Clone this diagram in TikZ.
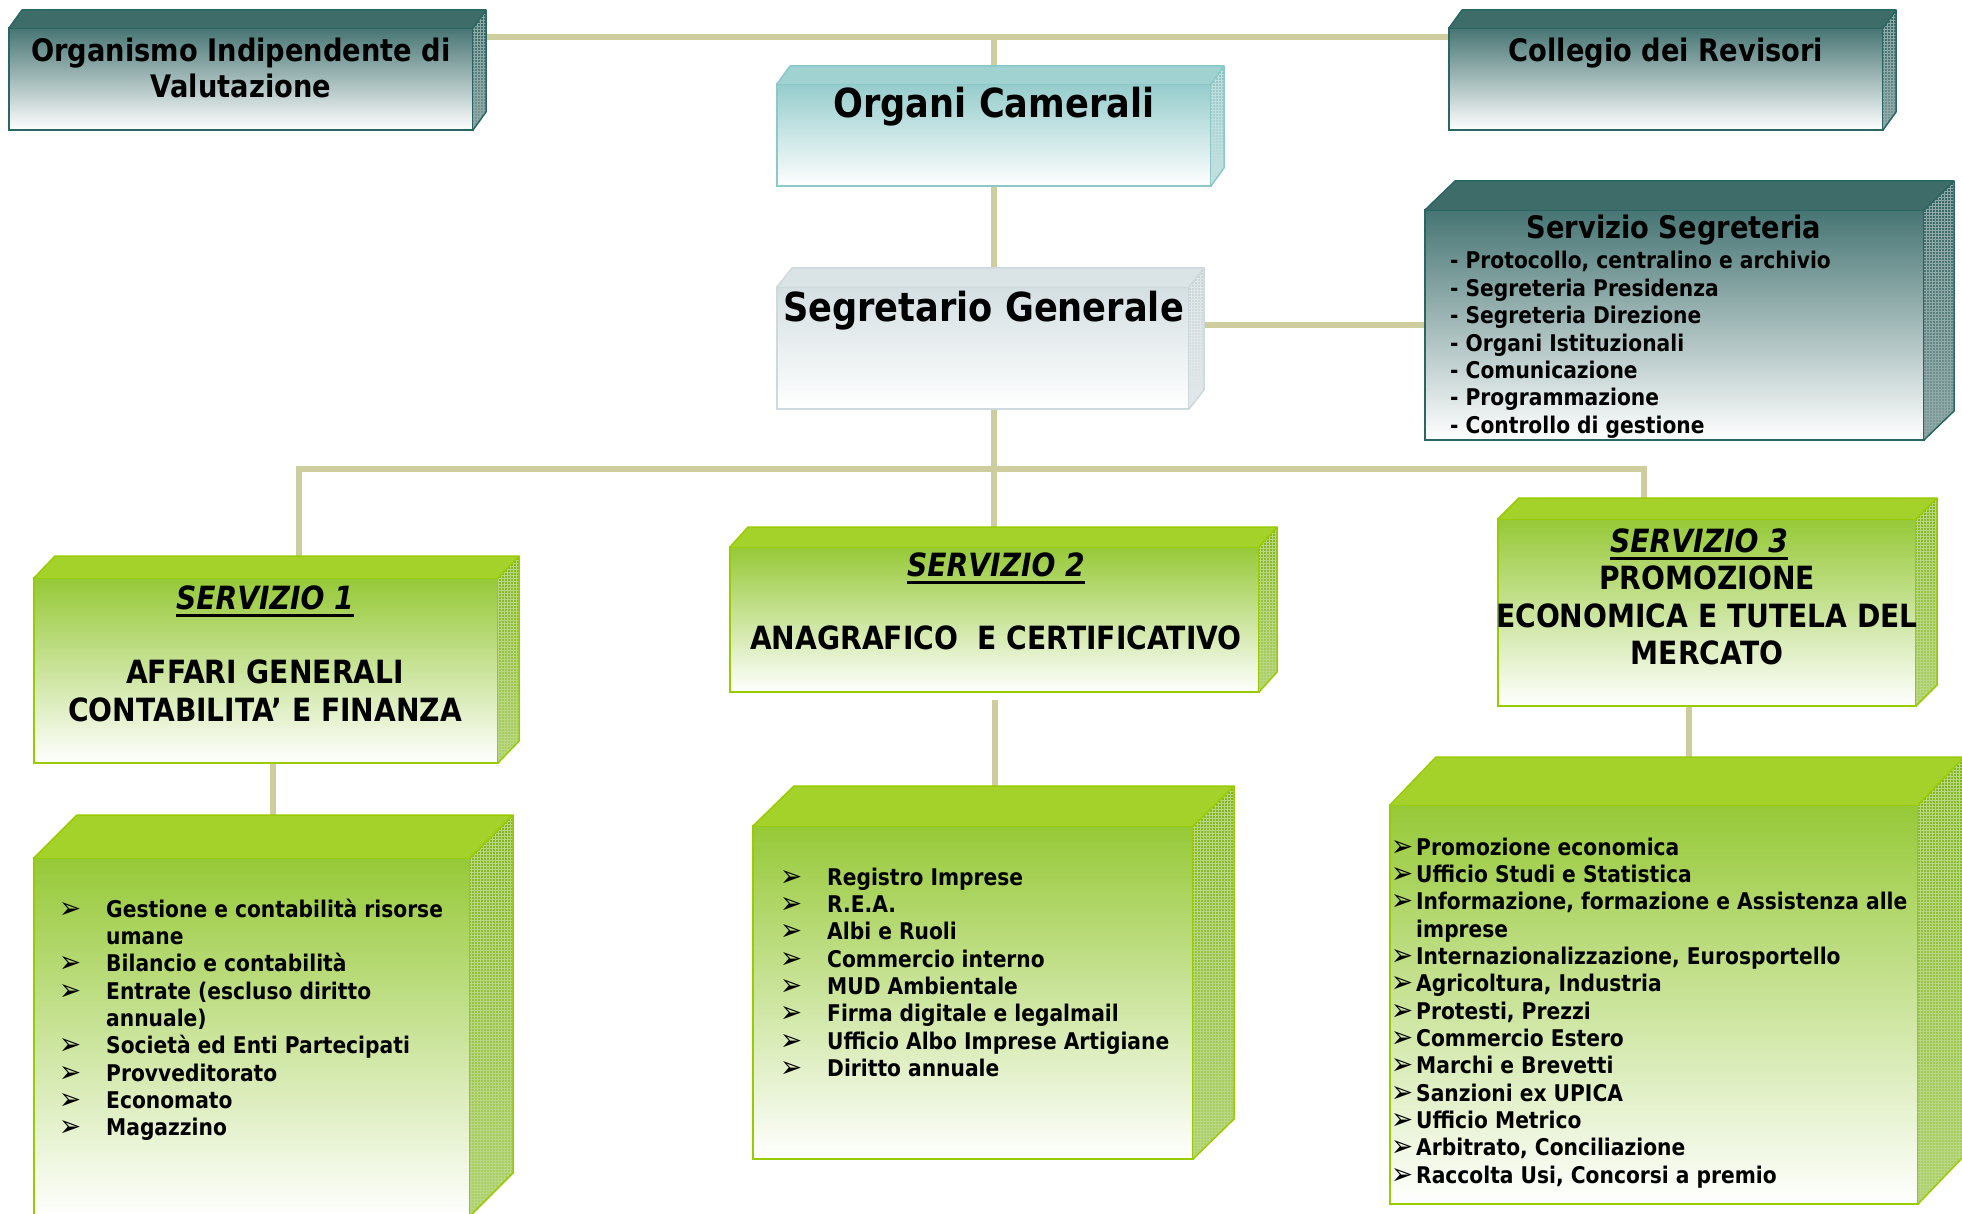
\documentclass[tikz,border=0pt]{standalone}
\usepackage{fontspec}
\setmainfont[FakeStretch=0.88]{DejaVu Sans}
\usetikzlibrary{patterns,backgrounds}

\definecolor{petrolio}{RGB}{70,117,115}
\definecolor{petrolioTop}{RGB}{62,108,104}
\definecolor{petrolioLato}{RGB}{50,98,95}
\definecolor{petrolioChiaro}{RGB}{130,158,156}
\definecolor{petrolioBordo}{RGB}{42,102,100}
\definecolor{acqua}{RGB}{150,204,204}
\definecolor{acquaTop}{RGB}{160,210,210}
\definecolor{acquaLato}{RGB}{140,195,195}
\definecolor{acquaChiaro}{RGB}{200,228,228}
\definecolor{acquaBordo}{RGB}{140,200,200}
\definecolor{perla}{RGB}{212,223,226}
\definecolor{perlaTop}{RGB}{218,227,230}
\definecolor{perlaLato}{RGB}{200,210,213}
\definecolor{perlaChiaro}{RGB}{228,234,236}
\definecolor{perlaBordo}{RGB}{205,217,221}
\definecolor{prato}{RGB}{150,201,55}
\definecolor{pratoTop}{RGB}{165,210,42}
\definecolor{pratoLato}{RGB}{128,180,30}
\definecolor{pratoChiaro}{RGB}{175,210,110}
\definecolor{pratoBordo}{RGB}{153,204,0}
\definecolor{corda}{RGB}{206,205,158}

% faccia superiore e fianco di una scatola: nodo, dx, dy, colori
\newcommand{\rilievo}[7]{%
  \fill[#4] (#1.north west) -- ++(#2,-#3) -- ([shift={(#2,-#3)}]#1.north east) -- (#1.north east) -- cycle;
  \shade[top color=#5, bottom color=#6] (#1.north east) -- ++(#2,-#3) -- ([shift={(#2,-#3)}]#1.south east) -- (#1.south east) -- cycle;
  \fill[pattern=grid, pattern color=white!45!#5] (#1.north east) -- ++(#2,-#3) -- ([shift={(#2,-#3)}]#1.south east) -- (#1.south east) -- cycle;
  \draw[#7, line width=1.5, line join=round] (#1.north west) -- ++(#2,-#3) -- ([shift={(#2,-#3)}]#1.north east) -- ([shift={(#2,-#3)}]#1.south east) -- (#1.south east);
  \draw[#7, line width=1.5] (#1.north east) -- ++(#2,-#3);
}
\newcommand{\righe}[1]{\begin{tabular}[t]{@{}c@{}}#1\end{tabular}}
\newcommand{\elenco}[1]{\begin{tabular}[t]{@{}l@{}l@{}}#1\end{tabular}}
\newcommand{\punta}[1]{\makebox[#1][l]{\mdseries\fontsize{30}{30}\selectfont\raisebox{-1pt}{\char"27A2}}}

\begin{document}
\begin{tikzpicture}[x=1pt, y=-1pt,
  scatola/.style={draw, line width=2, inner sep=0, outer sep=0},
  petrolioBox/.style={scatola, draw=petrolioBordo, top color=petrolio, bottom color=white},
  acquaBox/.style={scatola, draw=acquaBordo, top color=acqua, bottom color=white},
  perlaBox/.style={scatola, draw=perlaBordo, top color=perla, bottom color=white},
  pratoBox/.style={scatola, draw=pratoBordo, top color=prato, bottom color=white},
  testo/.style={inner sep=0, anchor=base},
  grande/.style={testo, font=\bfseries\fontsize{40}{46}\selectfont},
  medio/.style={testo, font=\bfseries\fontsize{31}{36}\selectfont},
  titolo/.style={testo, font=\bfseries\fontsize{32}{37.5}\selectfont},
  servizio/.style={testo, font=\bfseries\itshape\fontsize{32}{37.5}\selectfont},
  sottolinea/.style={line width=3},
  voce/.style={inner sep=0, anchor=base west, font=\bfseries\fontsize{23}{27.35}\selectfont},
  linea/.style={line width=6, draw=corda}]
  \useasboundingbox (0,0) rectangle (1962,1214);

  % Organi
  \node[petrolioBox, minimum width=464, minimum height=102] (oiv) at (241,79) {};
  \node[acquaBox, minimum width=434, minimum height=102] (cam) at (994,135) {};
  \node[petrolioBox, minimum width=434, minimum height=102] (coll) at (1666,79) {};
  \node[perlaBox, minimum width=412, minimum height=122] (seg) at (983,348) {};
  \node[petrolioBox, minimum width=499, minimum height=230] (segr) at (1674.5,325) {};

  % Servizi
  \node[pratoBox, minimum width=464, minimum height=185] (s1) at (266,670.5) {};
  \node[pratoBox, minimum width=529, minimum height=145] (s2) at (994.5,619.5) {};
  \node[pratoBox, minimum width=418, minimum height=187] (s3) at (1707,612.5) {};

  % Uffici
  \node[pratoBox, minimum width=436, minimum height=358] (l1) at (252,1037) {};
  \node[pratoBox, minimum width=440, minimum height=333] (l2) at (973,992.5) {};
  \node[pratoBox, minimum width=528, minimum height=399] (l3) at (1654,1004.5) {};

  \rilievo{oiv}{13}{18}{petrolioTop}{petrolioLato}{petrolioChiaro}{petrolioBordo}
  \rilievo{coll}{13}{18}{petrolioTop}{petrolioLato}{petrolioChiaro}{petrolioBordo}
  \rilievo{segr}{30}{29}{petrolioTop}{petrolioLato}{petrolioChiaro}{petrolioBordo}
  \rilievo{cam}{13}{18}{acquaTop}{acquaLato}{acquaChiaro}{acquaBordo}
  \rilievo{seg}{15}{19}{perlaTop}{perlaLato}{perlaChiaro}{perlaBordo}
  \rilievo{s1}{21}{22}{pratoTop}{pratoLato}{pratoChiaro}{pratoBordo}
  \rilievo{s2}{18}{20}{pratoTop}{pratoLato}{pratoChiaro}{pratoBordo}
  \rilievo{s3}{21}{21}{pratoTop}{pratoLato}{pratoChiaro}{pratoBordo}
  \rilievo{l1}{43}{43}{pratoTop}{pratoLato}{pratoChiaro}{pratoBordo}
  \rilievo{l2}{41}{40}{pratoTop}{pratoLato}{pratoChiaro}{pratoBordo}
  \rilievo{l3}{46}{48}{pratoTop}{pratoLato}{pratoChiaro}{pratoBordo}

  % Testi
  \node[medio] (oivT) at (241,61.5) {\righe{Organismo Indipendente di\\Valutazione}};
  \node[grande] (camT) at (994,118) {Organi Camerali};
  \node[medio] (collT) at (1666,61.5) {Collegio dei Revisori};
  \node[grande] (segT) at (983.5,322) {Segretario Generale};
  \node[medio] (segrT) at (1674,239) {Servizio Segreteria};
  \node[voce] (segrL) at (1450,269) {\begin{tabular}[t]{@{}l@{}}
    - Protocollo, centralino e archivio\\
    - Segreteria Presidenza\\
    - Segreteria Direzione\\
    - Organi Istituzionali\\
    - Comunicazione\\
    - Programmazione\\
    - Controllo di gestione\end{tabular}};

  \node[servizio] (s1T) at (265,609.5) {SERVIZIO 1};
  \node[titolo] (s1D) at (265,683.5) {\righe{AFFARI GENERALI\\CONTABILITA’ E FINANZA}};
  \node[servizio] (s2T) at (996,576) {SERVIZIO 2};
  \node[titolo] (s2D) at (996,649.5) {ANAGRAFICO\ \ E CERTIFICATIVO};
  \node[servizio] (s3T) at (1699,552) {SERVIZIO 3};
  \node[titolo] (s3D) at (1707,589.5) {\righe{PROMOZIONE\\ECONOMICA E TUTELA DEL\\MERCATO}};
  \draw[sottolinea] ([yshift=-6]s1T.base west) -- ([yshift=-6]s1T.base east);
  \draw[sottolinea] ([yshift=-6]s2T.base west) -- ([yshift=-6]s2T.base east);
  \draw[sottolinea] ([yshift=-6]s3T.base west) -- ([yshift=-6]s3T.base east);

  \node[voce] (l1L) at (59,917) {\elenco{
    \punta{47pt} & Gestione e contabilità risorse\\
                 & umane\\
    \punta{47pt} & Bilancio e contabilità\\
    \punta{47pt} & Entrate (escluso diritto\\
                 & annuale)\\
    \punta{47pt} & Società ed Enti Partecipati\\
    \punta{47pt} & Provveditorato\\
    \punta{47pt} & Economato\\
    \punta{47pt} & Magazzino}};
  \node[voce] (l2L) at (780,885) {\elenco{
    \punta{47pt} & Registro Imprese\\
    \punta{47pt} & R.E.A.\\
    \punta{47pt} & Albi e Ruoli\\
    \punta{47pt} & Commercio interno\\
    \punta{47pt} & MUD Ambientale\\
    \punta{47pt} & Firma digitale e legalmail\\
    \punta{47pt} & Ufficio Albo Imprese Artigiane\\
    \punta{47pt} & Diritto annuale}};
  \node[voce] (l3L) at (1391,855) {\elenco{
    \punta{25pt} & Promozione economica\\
    \punta{25pt} & Ufficio Studi e Statistica\\
    \punta{25pt} & Informazione, formazione e Assistenza alle\\
                 & imprese\\
    \punta{25pt} & Internazionalizzazione, Eurosportello\\
    \punta{25pt} & Agricoltura, Industria\\
    \punta{25pt} & Protesti, Prezzi\\
    \punta{25pt} & Commercio Estero\\
    \punta{25pt} & Marchi e Brevetti\\
    \punta{25pt} & Sanzioni ex UPICA\\
    \punta{25pt} & Ufficio Metrico\\
    \punta{25pt} & Arbitrato, Conciliazione\\
    \punta{25pt} & Raccolta Usi, Concorsi a premio}};

  % Collegamenti
  \begin{pgfonlayer}{background}
    \fill[white] (0,0) rectangle (1962,1214);
    \coordinate (sopra) at (994,37.5);
    \coordinate (bus) at (994,469);
    \draw[linea] (oiv) |- (sopra) -| (coll);
    \draw[linea] (sopra) -- (cam);
    \draw[linea] (cam) -- (cam |- seg);
    \draw[linea] (segr) -- (segr -| seg);
    \draw[linea] (cam |- seg) -- (bus);
    \draw[linea] (bus) -- (bus |- s2);
    \draw[linea] ([xshift=33]s1.center) |- (bus) -| ([xshift=-63]s3.center);
    \draw[linea] ([xshift=7]s1.center) -- ([xshift=7]s1.center |- l1.center);
    \draw[linea] ([yshift=-8]s2.south) -- (s2 |- l2);
    \draw[linea] ([xshift=-18]s3.center) -- ([xshift=-18]s3.center |- l3.center);
  \end{pgfonlayer}
\end{tikzpicture}
\end{document}
